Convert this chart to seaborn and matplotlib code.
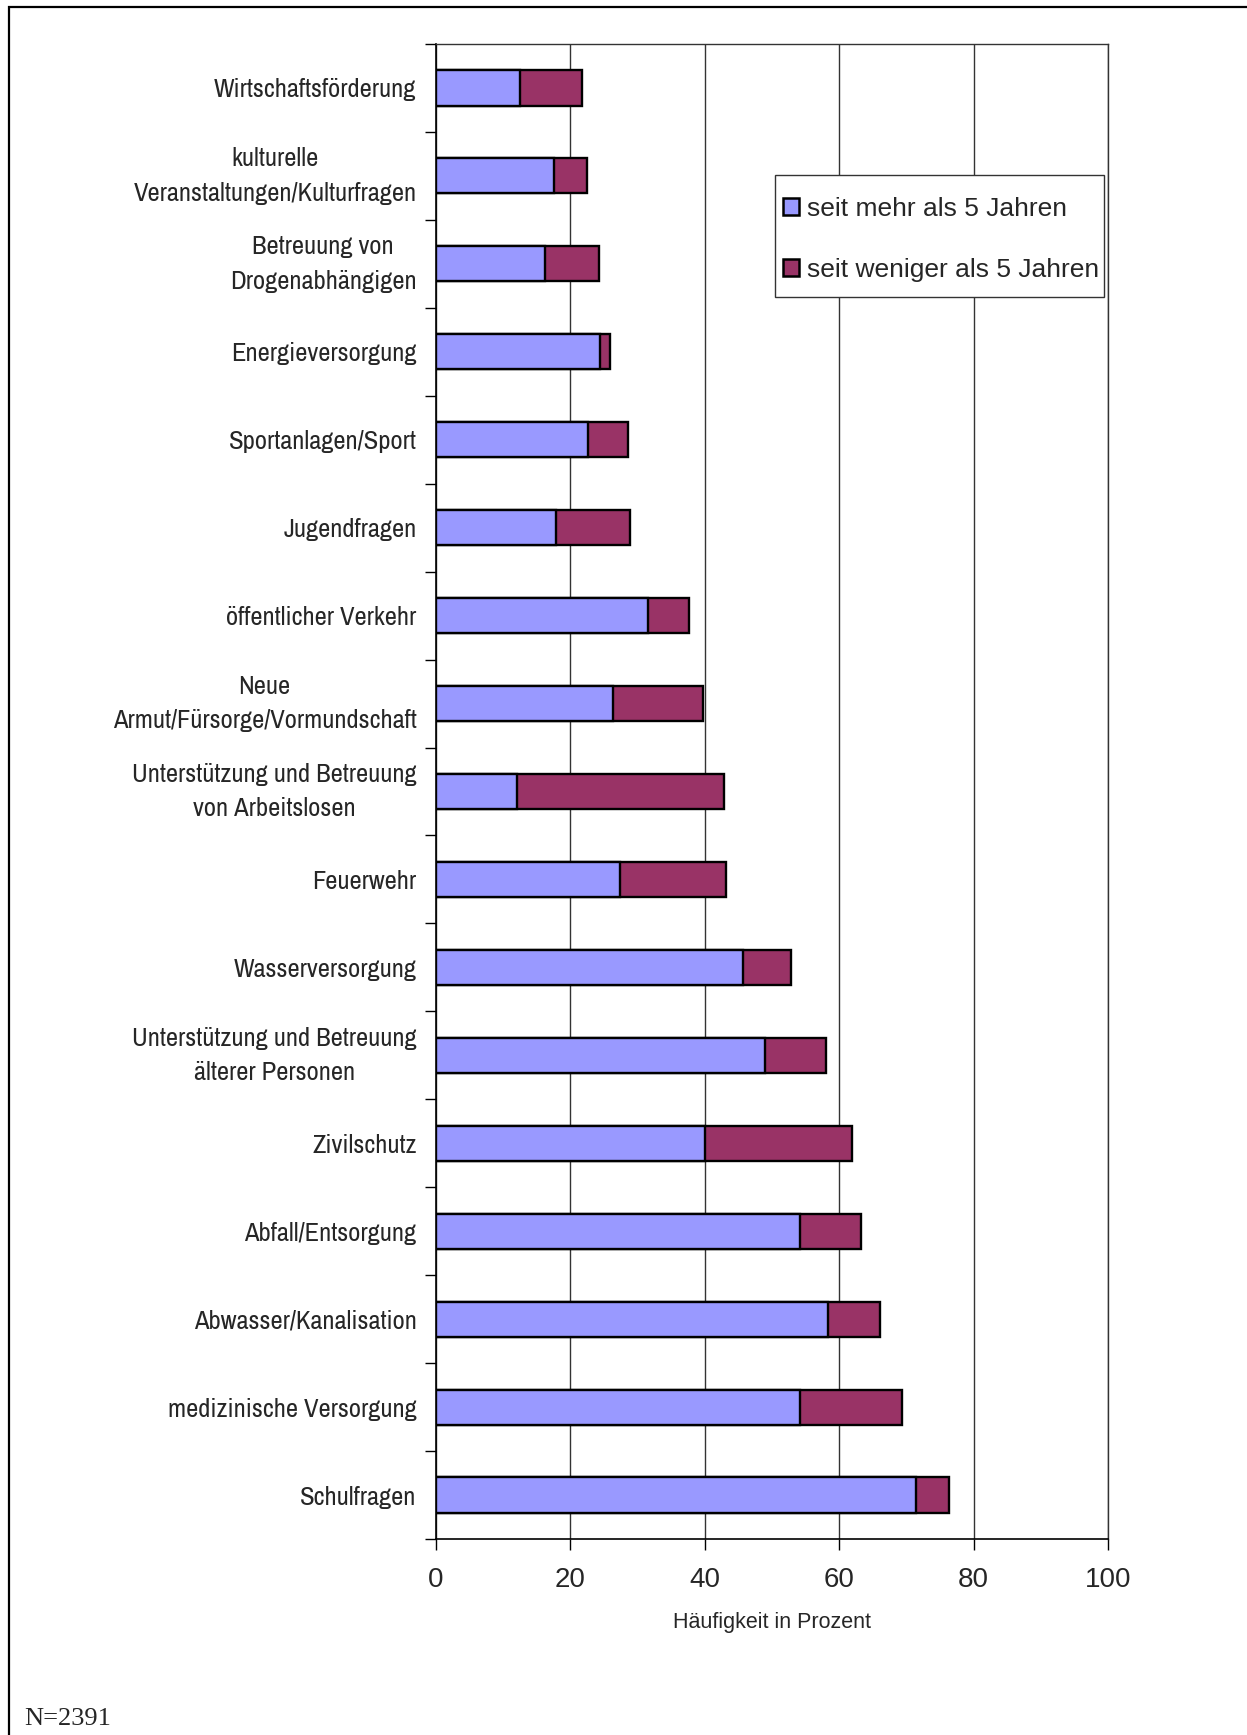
import matplotlib
matplotlib.use("Agg")
import matplotlib.pyplot as plt
from matplotlib import font_manager
from matplotlib.font_manager import FontProperties
from matplotlib.patches import Rectangle, Patch
from matplotlib.ticker import FixedLocator
import seaborn as sns
import pandas as pd

categories = [
    "Wirtschaftsförderung",
    "kulturelle\nVeranstaltungen/Kulturfragen",
    "Betreuung von\nDrogenabhängigen",
    "Energieversorgung",
    "Sportanlagen/Sport",
    "Jugendfragen",
    "öffentlicher Verkehr",
    "Neue\nArmut/Fürsorge/Vormundschaft",
    "Unterstützung und Betreuung\nvon Arbeitslosen",
    "Feuerwehr",
    "Wasserversorgung",
    "Unterstützung und Betreuung\nälterer Personen",
    "Zivilschutz",
    "Abfall/Entsorgung",
    "Abwasser/Kanalisation",
    "medizinische Versorgung",
    "Schulfragen",
]
# share of municipalities active for more than 5 years
mehr_als_5 = [12.5, 17.5, 16.2, 24.4, 22.6, 17.9, 31.6, 26.3, 12.1, 27.4,
              45.7, 48.9, 40.0, 54.1, 58.4, 54.2, 71.5]
# share active for less than 5 years (stacked on top)
weniger_als_5 = [9.2, 4.9, 8.1, 1.5, 6.0, 10.9, 6.1, 13.4, 30.7, 15.8,
                 7.1, 9.2, 21.9, 9.1, 7.7, 15.2, 4.8]
x_ticks = [0, 20, 40, 60, 80, 100]
legend_labels = ["seit mehr als 5 Jahren", "seit weniger als 5 Jahren"]
x_label = "Häufigkeit in Prozent"
note = "N=2391"

df = pd.DataFrame({
    "Bereich": categories,
    "mehr": mehr_als_5,
    "gesamt": [a + b for a, b in zip(mehr_als_5, weniger_als_5)],
})

sns.set_theme(style="white")
plt.rcParams["font.family"] = ["Liberation Sans", "DejaVu Sans"]


def find_narrow_font():
    """Pick a condensed sans face for the category labels, if one exists."""
    entries = font_manager.fontManager.ttflist
    prefs = [
        lambda f: "narrow" in f.name.lower() and "liberation" in f.name.lower()
        and f.style == "normal" and f.weight in (400, "normal", "regular"),
        lambda f: "narrow" in f.name.lower() and f.style == "normal",
        lambda f: "condensed" in str(f.stretch) and "dejavu sans" == f.name.lower()
        and f.style == "normal" and f.weight in (400, "normal", "regular"),
        lambda f: ("condensed" in f.name.lower() or "condensed" in str(f.stretch))
        and f.style == "normal" and f.weight in (400, "normal", "regular")
        and "extra" not in str(f.stretch) and "ultra" not in str(f.stretch),
    ]
    for test in prefs:
        for f in entries:
            try:
                if test(f):
                    return FontProperties(fname=f.fname)
            except Exception:
                continue
    return FontProperties(family="Liberation Sans")


BLUE = "#9999FF"
MAROON = "#993366"

W, H = 1247, 1735
fig = plt.figure(figsize=(W / 100, H / 100), dpi=100)
fig.patch.set_facecolor("white")
renderer = fig.canvas.get_renderer()

# size the condensed label font so the longest single-line label spans ~202 px
label_fp = find_narrow_font()
probe = fig.text(0, 0, "Wirtschaftsförderung", fontproperties=label_fp, fontsize=20)
probe_w = probe.get_window_extent(renderer).width
probe.remove()
label_size = min(21.0, 20 * 202 / probe_w)

# outer frame (open to the right and bottom)
fig.patches.append(Rectangle((9 / W, -0.05), 1.2, 1 - 7 / H + 0.05,
                             transform=fig.transFigure, fill=False,
                             edgecolor="black", linewidth=1.6, zorder=0))

left, right, top, bottom = 436, 1108, 44, 1539
ax = fig.add_axes([left / W, 1 - bottom / H, (right - left) / W, (bottom - top) / H])

sns.barplot(data=df, x="gesamt", y="Bereich", orient="h", color=MAROON,
            saturation=1, width=0.4, edgecolor="black", linewidth=1.7, ax=ax, zorder=3)
sns.barplot(data=df, x="mehr", y="Bereich", orient="h", color=BLUE,
            saturation=1, width=0.4, edgecolor="black", linewidth=1.7, ax=ax, zorder=4)

n = len(categories)
ax.set_xlim(0, 100)
ax.set_ylim(n - 0.5, -0.5)
ax.set_xticks(x_ticks)
ax.set_xticklabels([str(t) for t in x_ticks], fontsize=20)
ax.set_xlabel(x_label, fontsize=15.5, labelpad=14)
ax.set_ylabel("")

ax.grid(axis="x", color="#333333", linewidth=1.0, zorder=1)
ax.grid(axis="y", visible=False)
ax.set_axisbelow(True)

for side in ["top", "right"]:
    ax.spines[side].set_color("#333333")
    ax.spines[side].set_linewidth(1.0)
for side in ["left", "bottom"]:
    ax.spines[side].set_color("black")
    ax.spines[side].set_linewidth(1.2)

ax.tick_params(axis="x", which="major", direction="out", length=8, width=1,
               color="black", bottom=True, pad=12)
ax.tick_params(axis="y", which="major", length=0, pad=14)
ax.yaxis.set_minor_locator(FixedLocator([i + 0.5 for i in range(-1, n)]))
ax.tick_params(axis="y", which="minor", direction="out", length=8, width=1,
               color="black", left=True)

for lab in ax.get_yticklabels():
    lab.set_fontproperties(label_fp)
    lab.set_fontsize(label_size)
    lab.set_multialignment("center")
    lab.set_linespacing(1.6)
    if "\n" in lab.get_text():
        lab.set_verticalalignment("center")

# legend box drawn as its own rectangle, entries placed inside it
ax.add_patch(Rectangle((0.5045, 0.8308), 0.994 - 0.5045, 0.9124 - 0.8308,
                       transform=ax.transAxes, facecolor="white",
                       edgecolor="#333333", linewidth=1.0, zorder=9))
handles = [Patch(facecolor=BLUE, edgecolor="black", linewidth=1.8),
           Patch(facecolor=MAROON, edgecolor="black", linewidth=1.8)]
leg = ax.legend(handles, legend_labels, loc="center left",
                bbox_to_anchor=(0.5164, 0.8693), fontsize=19, frameon=False,
                handlelength=0.6, handleheight=0.65, handletextpad=0.3,
                labelspacing=1.4, borderpad=0, borderaxespad=0)
leg.set_zorder(10)

fig.text(24 / W, 1 - 1719 / H, note, fontsize=19, family=["Liberation Serif", "DejaVu Serif"],
         ha="left", va="center")

fig.savefig("out.png", dpi=100, facecolor="white")
